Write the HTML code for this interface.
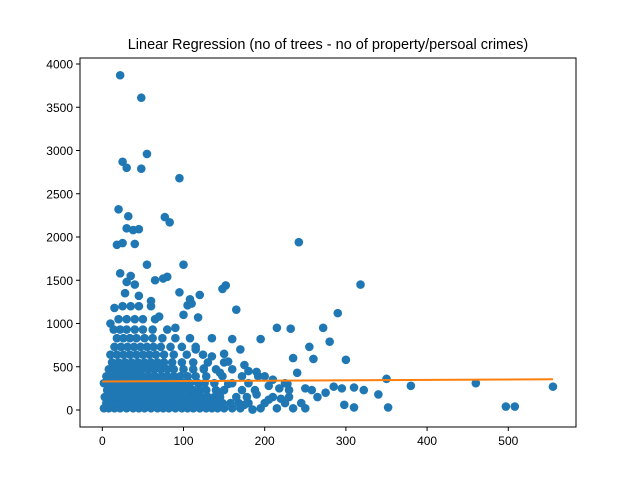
<!DOCTYPE html>
<html><head><meta charset="utf-8"><style>
body{margin:0;background:#fff;}
svg{display:block;font-family:"Liberation Sans","DejaVu Sans",sans-serif;}
</style></head><body>
<svg id="chart" width="640" height="480" xmlns="http://www.w3.org/2000/svg">
<rect x="0" y="0" width="640" height="480" fill="#fff"/>
<text x="328" y="49" font-size="14.5" text-anchor="middle">Linear Regression (no of trees - no of property/persoal crimes)</text>
<g id="points"></g>
<g id="line"></g>
<g id="axes"></g>
</svg>
<script>
const outlierX=[22,48,55,25,30,48,95,20,32,77,83,38,30,45,18,25,40,242,55,100,22,35,80,75,65,30,40,152,148,318,95,28,45,120,108,60,15,100,165,118,290,70,10,272,215,232,90,135,160,195,280,255,170,300,260,235,350,460,555,380,497,508,352,310,340,322,310,295,298,285,240,228,250,265,275,220,205,190,185,175,200,210,180,155,145,130,120,105,110,150,115,135,155,175,190,125,145,205,218];
const outlierY=[3870,3610,2960,2870,2800,2790,2680,2320,2240,2230,2170,2080,2100,2090,1910,1930,1920,1940,1680,1680,1580,1550,1540,1520,1500,1480,1450,1440,1400,1450,1360,1350,1320,1330,1280,1260,1180,1100,1160,1070,1120,1080,1000,950,950,940,950,830,820,820,790,730,700,580,590,600,360,310,270,280,40,40,30,30,180,230,260,250,60,270,430,300,250,150,200,130,120,180,5,60,390,350,450,300,200,150,50,1210,1230,650,700,620,560,520,440,480,430,280,250];
const rowLevels=[20,80,150,230,310,390,470,550,640,730,830,930,1050,1200];
const rowXs=[
[2,8,15,22,30,38,45,52,60,68,75,82,90,98,105,112,120,128,135,142,150,160,170,195,215,235,250],
[5,12,20,28,35,42,50,58,65,72,80,88,95,102,110,118,125,132,140,148,158,168,180,200,225,245],
[3,10,18,25,33,40,48,55,62,70,78,85,92,100,108,115,122,130,138,145,165,178,210,230],
[6,14,22,30,37,45,52,60,67,75,82,90,97,105,112,120,128,140,150,172,188,230,258],
[2,9,17,25,32,40,47,55,62,70,77,85,92,100,108,118,126,138,160,180,225],
[5,13,20,28,35,43,50,58,65,73,80,88,96,105,115,128,148,172,192],
[8,16,24,32,40,48,56,64,72,80,88,100,112,125,140,160],
[12,20,28,36,44,52,60,68,76,86,98,112,130,150],
[10,18,26,34,42,50,58,66,76,88,104,124],
[15,23,31,39,47,55,63,72,84,98,115],
[18,26,34,42,52,62,74,90,108],
[14,22,30,40,50,62,80],
[20,30,40,50,65],
[25,35,45,60]];
const lineX=[0,555];
const lineY=[330,355];
const xTicks=[0,100,200,300,400,500];
const yTicks=[0,500,1000,1500,2000,2500,3000,3500,4000];

const L=80,R=576,T=58,B=427;
const sx=v=>102.3+v*0.812;
const sy=v=>410-v*0.0865;
const NS="http://www.w3.org/2000/svg";
function mk(tag,attrs,parent){const e=document.createElementNS(NS,tag);for(const k in attrs)e.setAttribute(k,attrs[k]);parent.appendChild(e);return e;}
const pg=document.getElementById('points');
function dot(x,y){
  const c=mk('circle',{cx:sx(x),cy:sy(y),r:4.3,fill:'#1f77b4'},pg);
  
  
}
rowLevels.forEach((y,i)=>rowXs[i].forEach(x=>dot(x,y)));
outlierX.forEach((x,i)=>dot(x,outlierY[i]));
const lg=document.getElementById('line');
const ln=mk('line',{x1:sx(lineX[0]),y1:sy(lineY[0]),x2:sx(lineX[1]),y2:sy(lineY[1]),stroke:'#ff7f0e','stroke-width':2},lg);


const ag=document.getElementById('axes');
mk('rect',{x:L,y:T,width:R-L,height:B-T,fill:'none',stroke:'#000','stroke-width':1},ag);
xTicks.forEach(t=>{
  const x=sx(t);
  mk('line',{x1:x,y1:B,x2:x,y2:B+4,stroke:'#000'},ag);
  const tx=mk('text',{x:x,y:B+18,'font-size':12,'text-anchor':'middle'},ag);
  tx.textContent=t;
  
  
});
yTicks.forEach(t=>{
  const y=sy(t);
  mk('line',{x1:L-4,y1:y,x2:L,y2:y,stroke:'#000'},ag);
  const tx=mk('text',{x:L-7,y:y+4.5,'font-size':12,'text-anchor':'end'},ag);
  tx.textContent=t;
  
  
});
</script>
</body></html>
